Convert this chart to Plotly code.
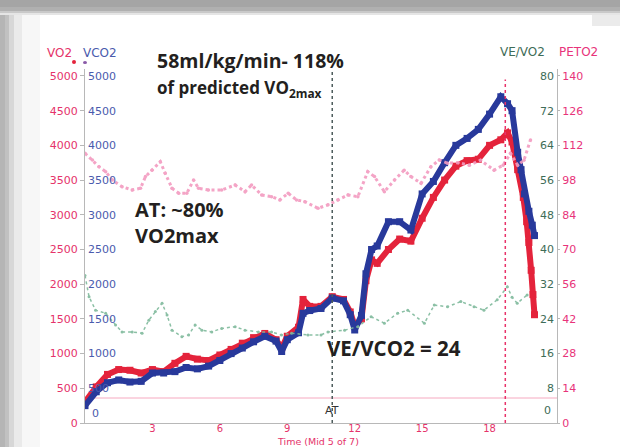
import plotly.graph_objects as go

# ---------------- data ----------------
t_vo2 = [0, 0.5, 1.0, 1.5, 2.0, 2.5, 3.0, 3.5, 4.0, 4.5, 5.0, 5.5, 6.0, 6.5, 7.0, 7.5, 8.0, 8.5, 8.75, 9.0,
         9.5, 9.7, 10.0, 10.5, 11.0, 11.5, 11.8, 12.0, 12.3, 12.5, 12.75, 13.0, 13.5, 14.0, 14.5, 15.0, 15.5,
         16.0, 16.5, 17.0, 17.5, 18.0, 18.5, 18.8, 19.0, 19.25, 19.5, 19.65, 19.75, 19.85, 19.93, 20.0]
vo2 = [300, 520, 700, 770, 760, 720, 770, 740, 860, 960, 920, 900, 980, 1060, 1150, 1230, 1290, 1200, 1080, 1250,
       1380, 1780, 1680, 1680, 1820, 1780, 1600, 1400, 1500, 2050, 2350, 2300, 2500, 2650, 2620, 2950, 3250,
       3500, 3700, 3780, 3800, 4000, 4080, 4180, 4050, 3650, 3250, 2900, 2600, 2200, 1850, 1560]

t_vco2 = [0, 0.5, 1.0, 1.5, 2.0, 2.5, 3.0, 3.5, 4.0, 4.5, 5.0, 5.5, 6.0, 6.5, 7.0, 7.5, 8.0, 8.5, 8.75, 9.0,
          9.5, 9.7, 10.0, 10.5, 11.0, 11.5, 11.8, 12.0, 12.3, 12.5, 12.75, 13.0, 13.5, 14.0, 14.5, 15.0, 15.5,
          16.0, 16.5, 17.0, 17.5, 18.0, 18.5, 18.8, 19.0, 19.25, 19.4, 19.55, 19.75, 19.9, 20.0]
vco2 = [250, 450, 580, 620, 590, 600, 720, 720, 740, 800, 780, 820, 900, 1000, 1080, 1170, 1250, 1180, 1030, 1200,
        1300, 1580, 1620, 1650, 1800, 1760, 1560, 1340, 1550, 2150, 2500, 2550, 2900, 2900, 2780, 3300, 3480,
        3750, 4000, 4100, 4230, 4450, 4700, 4600, 4500, 3900, 3650, 3300, 3050, 2850, 2700]

t_peto2 = [0, 0.33, 0.62, 0.92, 1.21, 1.65, 2.1, 2.47, 2.69, 2.98, 3.35, 3.57, 3.87, 4.17, 4.53, 4.83, 5.05,
           5.49, 6.08, 6.68, 7.12, 7.41, 7.86, 8.3, 8.67, 9.04, 9.41, 9.78, 10.37, 10.81, 11.25, 11.7, 12.14,
           12.58, 12.88, 13.32, 13.77, 14.2, 14.5, 14.95, 15.39, 15.76, 16.13, 16.6, 17.1, 17.6, 18.2, 18.6,
           18.93, 19.25, 19.53, 19.82]
peto2 = [108.8, 106.1, 103.4, 101.4, 98, 95.3, 94, 94.7, 99.4, 102, 105.4, 100.7, 94.7, 92.7, 92.7, 98, 94.7,
         94, 94, 96, 93.3, 96, 92, 91.3, 90, 92.7, 90, 89.3, 86.6, 88, 90, 92, 91.3,
         101.4, 99.4, 93.3, 98, 102, 99.4, 96.7, 103.4, 106.1, 104.8, 105, 104, 106, 102, 104,
         108.8, 104, 106, 114.2]

t_vevo2 = [0, 0.18, 0.47, 0.92, 1.36, 1.65, 2.1, 2.54, 2.84, 3.13, 3.43, 3.65, 3.87, 4.31, 4.61, 4.9, 5.2,
           5.64, 6.08, 6.68, 7.12, 7.71, 8.3, 8.74, 9.19, 9.92, 10.5, 10.81, 11.55, 12.14, 12.73, 13.32,
           13.91, 14.36, 15.1, 15.54, 16.13, 16.72, 17.31, 17.75, 18.34, 18.79, 19.0, 19.23, 19.67]
vevo2 = [34, 29.1, 26, 25.3, 22.6, 21, 21, 20.7, 23.7, 25.7, 27.6, 24.9, 21.4, 19.9, 20.3, 22.6, 21.4,
         21, 21.8, 22.2, 21.4, 21, 21, 20.3, 20.7, 20.3, 20.3, 21, 21.4, 22.2, 24.5, 23,
         25.3, 26, 23, 27.2, 26.8, 28, 26.8, 26, 28.4, 31.4, 29, 27.6, 29.5]

x_ticks = [0, 3, 6, 9, 12, 15, 18, 21]
vo2_ticks = [0, 500, 1000, 1500, 2000, 2500, 3000, 3500, 4000, 4500, 5000]
vco2_ticks = [500, 1000, 1500, 2000, 2500, 3000, 3500, 4000, 4500, 5000]
vevo2_ticks = [8, 16, 24, 32, 40, 48, 56, 64, 72, 80]
peto2_ticks = [0, 14, 28, 42, 56, 70, 84, 98, 112, 126, 140]

AT_TIME = 11.0
PEAK_TIME = 18.7
BASELINE_VO2 = 360

# ---------------- colours ----------------
RED = "#e4233b"
BLUE = "#28399b"
PINK = "#f39bc0"
GREEN = "#7fba9c"
RED_TXT = "#e5336a"
BLUE_TXT = "#4a5bad"
GREEN_TXT = "#3e6c57"
PINK_TXT = "#e8337a"
AXIS = "#b8b8b8"
FONT = "DejaVu Sans"
BOLD = "Open Sans"

fig = go.Figure()

fig.add_trace(go.Scatter(x=t_peto2, y=peto2, yaxis="y4", mode="lines+markers",
                         line=dict(color=PINK, width=3, dash="dot"),
                         marker=dict(size=3.5, color=PINK), opacity=0.9, hoverinfo="skip"))
fig.add_trace(go.Scatter(x=t_vevo2, y=vevo2, yaxis="y3", mode="lines+markers",
                         line=dict(color=GREEN, width=1.5, dash="dot"),
                         marker=dict(size=3, color=GREEN), opacity=0.9, hoverinfo="skip"))
fig.add_trace(go.Scatter(x=t_vo2, y=vo2, yaxis="y", mode="lines+markers",
                         line=dict(color=RED, width=6),
                         marker=dict(size=7, color=RED, symbol="square")))
fig.add_trace(go.Scatter(x=t_vco2, y=vco2, yaxis="y2", mode="lines+markers",
                         line=dict(color=BLUE, width=6),
                         marker=dict(size=7, color=BLUE, symbol="square")))

YMAX = 5100
fig.update_layout(
    width=620, height=447,
    margin=dict(l=85, r=63, t=69, b=24),
    paper_bgcolor="white", plot_bgcolor="white",
    showlegend=False,
    font=dict(family=FONT, size=11),
    xaxis=dict(range=[0, 21], tickvals=x_ticks, showgrid=False, zeroline=False,
               showline=True, linecolor=AXIS, linewidth=1, ticks="", ticklabelstandoff=-4,
               tickfont=dict(color=RED_TXT, size=10, family=FONT)),
    yaxis=dict(range=[0, YMAX], tickvals=vo2_ticks, showgrid=False, zeroline=False,
               showline=True, linecolor=AXIS, linewidth=1, ticks="outside", ticklen=4,
               tickcolor=AXIS, tickfont=dict(color=RED_TXT, size=11, family=FONT)),
    yaxis2=dict(range=[0, YMAX], overlaying="y", side="left", anchor="x", tickvals=vco2_ticks,
                ticklabelposition="inside", showgrid=False, zeroline=False, showline=False,
                ticks="", tickfont=dict(color=BLUE_TXT, size=11, family=FONT)),
    yaxis3=dict(range=[0, 80 * YMAX / 5000], overlaying="y", side="right", anchor="x",
                tickvals=vevo2_ticks, ticklabelposition="inside", showgrid=False, zeroline=False,
                showline=False, ticks="", tickfont=dict(color=GREEN_TXT, size=11, family=FONT)),
    yaxis4=dict(range=[0, 140 * YMAX / 5000], overlaying="y", side="right", anchor="x",
                tickvals=peto2_ticks, showgrid=False, zeroline=False, showline=True,
                linecolor=AXIS, linewidth=1, ticks="outside", ticklen=2, tickcolor=AXIS,
                tickfont=dict(color=PINK_TXT, size=11, family=FONT)),
)

def px_x(px):
    return (px - 85) / 472.0

def px_y(py):
    return (423 - py) / 354.0

shapes = []
# scanned-page shadow: top band and left edge (soft gradient built from translucent strips)
for top_px, alpha in [(15, 0.10), (13, 0.12), (11, 0.12), (7, 0.06)]:
    shapes.append(dict(type="rect", xref="paper", yref="paper", x0=px_x(-20), x1=px_x(640),
                       y0=px_y(top_px), y1=px_y(-20), fillcolor="black", opacity=alpha,
                       line=dict(width=0), layer="above"))
for right_px, alpha in [(40, 0.03), (22, 0.05), (14, 0.08), (9, 0.10), (5, 0.06)]:
    shapes.append(dict(type="rect", xref="paper", yref="paper", x0=px_x(-20), x1=px_x(right_px),
                       y0=px_y(460), y1=px_y(15), fillcolor="black", opacity=alpha,
                       line=dict(width=0), layer="above"))
shapes.append(dict(type="rect", xref="paper", yref="paper", x0=px_x(592), x1=px_x(640),
                   y0=px_y(26), y1=px_y(15), fillcolor="black", opacity=0.08,
                   line=dict(width=0), layer="above"))
shapes += [
    dict(type="line", xref="paper", yref="y", x0=0, x1=1, y0=BASELINE_VO2, y1=BASELINE_VO2,
         line=dict(color="#f6a9c0", width=1), layer="below"),
    dict(type="line", xref="x", yref="paper", x0=AT_TIME, x1=AT_TIME, y0=0, y1=1.0,
         line=dict(color="#4d5c5c", width=1.5, dash="dot")),
    dict(type="line", xref="x", yref="paper", x0=PEAK_TIME, x1=PEAK_TIME, y0=0, y1=0.97,
         line=dict(color="#e8336a", width=1.5, dash="dot")),
    dict(type="circle", xref="paper", yref="paper", x0=px_x(72), x1=px_x(76), y0=px_y(64), y1=px_y(60),
         fillcolor=RED, line=dict(width=0)),
    dict(type="circle", xref="paper", yref="paper", x0=px_x(83), x1=px_x(87), y0=px_y(64), y1=px_y(61),
         fillcolor="#8a5aa8", line=dict(width=0)),
]
fig.update_layout(shapes=shapes)

ann = [
    dict(text="VO2", x=px_x(59), y=px_y(53), font=dict(color=RED_TXT, size=12, family=FONT)),
    dict(text="VCO2", x=px_x(100), y=px_y(53), font=dict(color=BLUE_TXT, size=12, family=FONT)),
    dict(text="VE/VO2", x=px_x(522), y=px_y(52), font=dict(color=GREEN_TXT, size=12, family=FONT)),
    dict(text="PETO2", x=px_x(578), y=px_y(52), font=dict(color=PINK_TXT, size=12, family=FONT)),
    dict(text="0", x=px_x(90), y=px_y(413), xanchor="left", font=dict(color=BLUE_TXT, size=11, family=FONT)),
    dict(text="0", x=px_x(553), y=px_y(410), xanchor="right", font=dict(color=GREEN_TXT, size=11, family=FONT)),
    dict(text="Time (Mid 5 of 7)", x=px_x(318), y=px_y(448), yanchor="bottom", borderpad=0,
         font=dict(color=RED_TXT, size=9.5, family=FONT)),
    dict(text="AT", x=AT_TIME, xref="x", y=px_y(410), font=dict(color="#333333", size=11, family=FONT)),
    dict(text="<b>58ml/kg/min- 118%</b>", x=px_x(155), y=px_y(61), xanchor="left",
         font=dict(color="#231f20", size=19.5, family=BOLD)),
    dict(text="<b>of predicted VO<sub>2max</sub></b>", x=px_x(155), y=px_y(88), xanchor="left",
         font=dict(color="#231f20", size=17, family=BOLD)),
    dict(text="<b>AT: ~80%</b>", x=px_x(133), y=px_y(209), xanchor="left",
         font=dict(color="#231f20", size=20, family=BOLD)),
    dict(text="<b>VO2max</b>", x=px_x(133), y=px_y(235), xanchor="left",
         font=dict(color="#231f20", size=20, family=BOLD)),
    dict(text="<b>VE/VCO2 = 24</b>", x=px_x(325), y=px_y(348), xanchor="left",
         font=dict(color="#231f20", size=20.5, family=BOLD)),
]
for a in ann:
    a.setdefault("xref", "paper")
    a.setdefault("yref", "paper")
    a.setdefault("xanchor", "center")
    a.setdefault("yanchor", "middle")
    a["showarrow"] = False
fig.update_layout(annotations=ann)

fig.write_html("out.html", config={"displayModeBar": False},
               post_script="document.body.style.margin='0';document.body.style.padding='0';"
                           "document.body.style.overflow='hidden';")
